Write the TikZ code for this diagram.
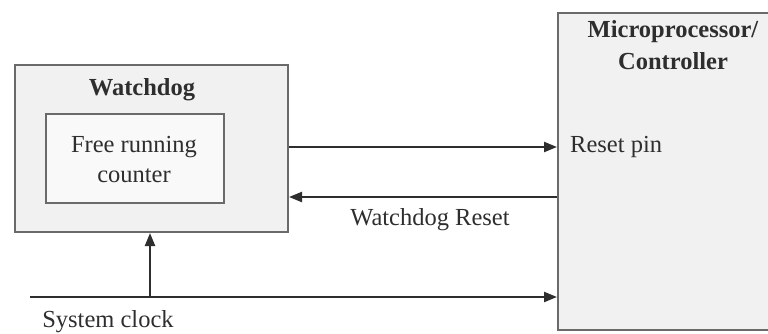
\documentclass[tikz,border=0pt]{standalone}
\usepackage{fontspec}
\setmainfont{Liberation Serif}
\usetikzlibrary{arrows.meta}
\definecolor{ink}{HTML}{2E2E2E}
\definecolor{edge}{HTML}{6A6A6A}
\definecolor{boxfill}{HTML}{F1F1F1}
\begin{document}
\begin{tikzpicture}[x=1pt,y=-1pt,
  lbl/.style={font=\fontsize{24.5}{30}\selectfont, text=ink, inner sep=0pt, align=center},
  ttl/.style={font=\fontsize{24.5}{32}\selectfont\bfseries, text=ink, inner sep=0pt, align=center},
  blk/.style={draw=edge, line width=2pt, fill=boxfill, inner sep=0pt},
  arr/.style={draw=ink, line width=2.2pt, -{Triangle[length=13pt,width=10pt]}},
  wire/.style={draw=ink, line width=2.2pt}]
\useasboundingbox (0,0) rectangle (768,333);
\clip (0,0) rectangle (768,333);
% Watchdog block
\node[blk, anchor=north west, minimum width=273pt, minimum height=167pt] (wd) at (14,64) {};
\node[ttl] (wdt) at (142,90) {Watchdog};
\node[draw=edge, line width=2pt, fill=white!60!boxfill, anchor=north west, minimum width=178pt, minimum height=89pt, inner sep=0pt] (frc) at (45,113) {};
\node[lbl] (frct) at (134,160) {Free running\\counter};
% Microprocessor block
\node[blk, anchor=north west, minimum width=225pt, minimum height=317pt] (mc) at (557,12) {};
\node[ttl, anchor=north] (mct) at (673,20) {Microprocessor/\\Controller};
\node[lbl, anchor=west] (rp) at (570,147) {Reset pin};
% Labels
\node[lbl] (wr) at (430,220) {Watchdog Reset};
\node[lbl] (sc) at (108,322) {System clock};
% Connectors
\coordinate (rs) at (557,197);
\coordinate (clk) at (30,297);
\coordinate (tap) at (150,297);
\draw[arr] (wd.east |- rp) -- (mc.west |- rp);
\draw[arr] (rs) -- (wd.east |- rs);
\draw[arr] (clk) -- (mc.west |- clk);
\draw[arr] (tap) -- (tap |- wd.south);
\end{tikzpicture}
\end{document}
